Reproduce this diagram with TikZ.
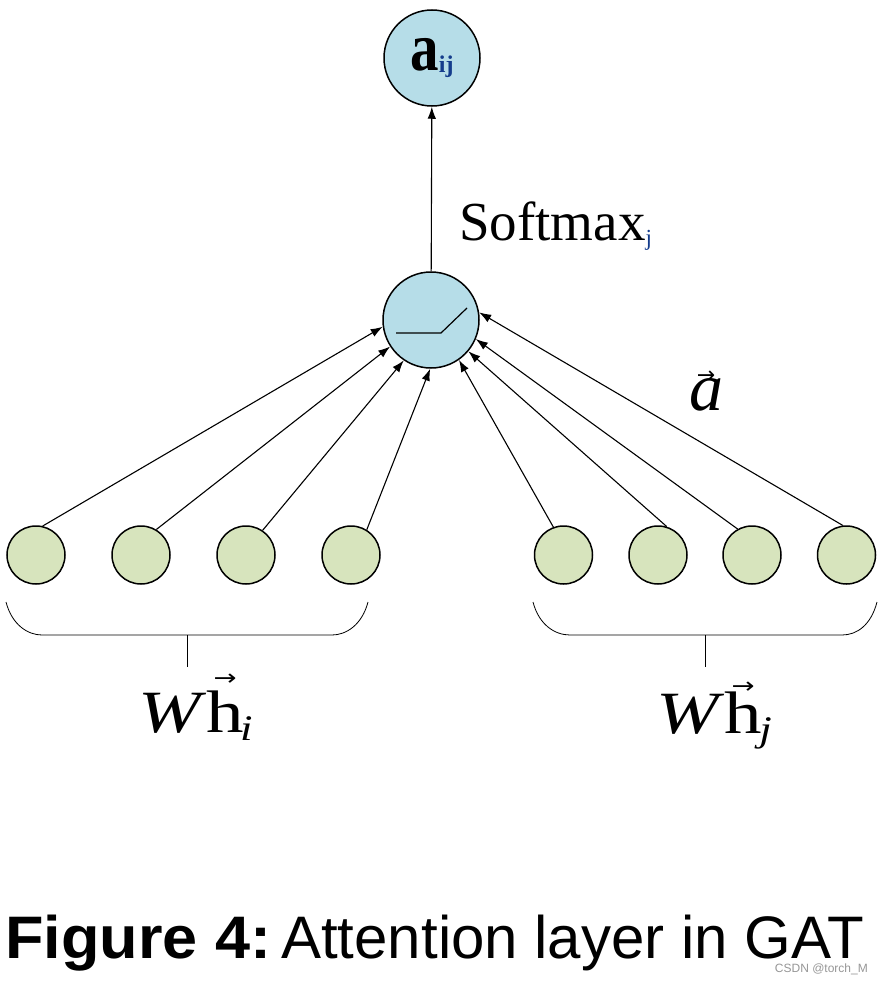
\documentclass[tikz,border=0pt]{standalone}
\usepackage{fontspec}
\usepackage{graphicx}
\setmainfont{Liberation Serif}
\setsansfont{Liberation Sans}
\newfontfamily\arrowfont{DejaVu Sans}
\usetikzlibrary{arrows.meta}
\definecolor{nodeblue}{RGB}{182,221,232}
\definecolor{nodegreen}{RGB}{215,228,189}
\definecolor{wmgrey}{RGB}{150,150,150}
\definecolor{subblue}{RGB}{20,60,140}
\newcommand\vecover[3]{\setbox0\hbox{#3}\rlap{\hbox to\wd0{\hss\raisebox{#1}{\arrowfont\fontsize{#2}{#2}\selectfont →}\hss}}\box0}
\begin{document}
\begin{tikzpicture}[x=1pt,y=-1pt,
  bluenode/.style={circle,draw,line width=1.5pt,fill=nodeblue,minimum size=96pt,inner sep=0pt},
  greennode/.style={circle,draw,line width=1.5pt,fill=nodegreen,minimum size=58pt,inner sep=0pt},
  conn/.style={line width=1.1pt,-{Latex[length=12pt,width=8.5pt]}},
  bracestyle/.style={line width=0.8pt},
  lbl/.style={inner sep=0pt,anchor=base west}]
\useasboundingbox (0,0) rectangle (882,982);

\node[bluenode] (top) at (432,58) {\raisebox{0pt}{\scalebox{1}[1.2]{\fontsize{57}{57}\selectfont\bfseries a}}\raisebox{-2pt}{\fontsize{24}{24}\selectfont\bfseries\color{subblue}ij}};
\node[bluenode] (mid) at (431,320) {};
\draw[line width=1.2pt] ([shift={(-35,13)}]mid.center) -- ++(45,0) -- ++(26,-25);

\node[greennode] (b1) at (36,555) {};
\node[greennode] (b2) at (141,555) {};
\node[greennode] (b3) at (246,555) {};
\node[greennode] (b4) at (351,555) {};
\node[greennode] (c1) at (563.5,555) {};
\node[greennode] (c2) at (658,555) {};
\node[greennode] (c3) at (752,555) {};
\node[greennode] (c4) at (846.5,555) {};

\draw[conn] (mid) -- (top);
\draw[conn] (b1.77) -- (mid.188);
\draw[conn] (b2.59) -- (mid.213);
\draw[conn] (b3.56) -- (mid.236);
\draw[conn] (b4.58) -- (mid.269);
\draw[conn] (c1.110) -- (mid.-55);
\draw[conn] (c2.73) -- (mid.-40);
\draw[conn] (c3.119) -- (mid.-23);
\draw[conn] (c4.97) -- (mid.9);

\draw[bracestyle] (6,602) .. controls (12,625) and (28,635) .. (42,635) -- (332,635) .. controls (346,635) and (362,625) .. (368,602);
\draw[bracestyle] (187,635) -- (187,667);
\draw[bracestyle] (533,602) .. controls (539,625) and (555,635) .. (570,635) -- (842,635) .. controls (857,635) and (871,625) .. (877,602);
\draw[bracestyle] (705,635) -- (705,667);

\node[lbl] (sm) at (459,240) {\fontsize{55}{55}\selectfont Softmax\raisebox{-5pt}{\fontsize{23}{23}\selectfont\color{subblue}j}};
\node[lbl] (va) at (689,410) {\fontsize{68}{68}\selectfont\vecover{28pt}{22}{\textit{a}}};
\node[lbl] (wi) at (138,732) {\scalebox{1.25}[1]{\fontsize{60}{60}\selectfont\textit{W}\vecover{47pt}{22}{h}\hspace{-3pt}\raisebox{-8pt}{\fontsize{36}{36}\selectfont\textit{i}}}};
\node[lbl] (wj) at (656,733) {\scalebox{1.25}[1]{\fontsize{60}{60}\selectfont\textit{W}\vecover{40pt}{22}{h}\hspace{-2pt}\raisebox{-8pt}{\fontsize{36}{36}\selectfont\textit{j}}}};

\node[lbl] (title) at (5,958) {\sffamily\fontsize{60}{60}\selectfont\scalebox{1.05}[1]{\textbf{Figure 4:}}\hspace{10pt}Attention layer in GAT};
\node[inner sep=0pt,anchor=base east] (wm) at (868,972) {\sffamily\fontsize{12}{12}\selectfont\color{wmgrey}CSDN @torch\_M};
\end{tikzpicture}
\end{document}
